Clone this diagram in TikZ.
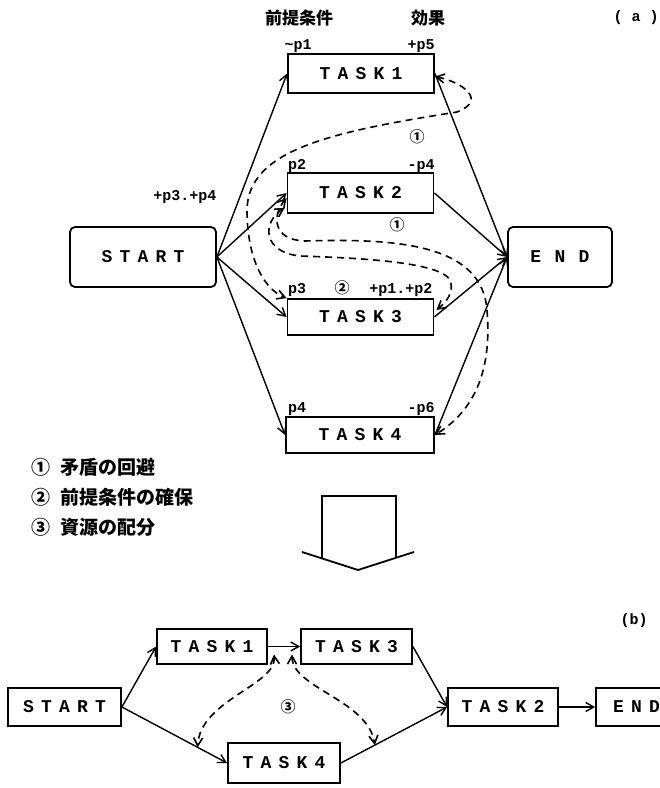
\documentclass[tikz,border=0pt]{standalone}
\usepackage{fontspec}
\setmainfont{Liberation Sans}
\newfontfamily\taskfont[LetterSpace=40]{Liberation Mono}
\newfontfamily\lblfont{Liberation Mono}
\newfontfamily\jpfont{Noto Sans CJK JP}
\usepackage{tikz}
\usetikzlibrary{arrows.meta,positioning,calc}

\begin{document}
\begin{tikzpicture}[x=1pt, y=-1pt,
 >={Straight Barb[length=8pt,width=9pt]},
 task/.style={rectangle, draw, line width=1.8pt, minimum width=146pt, minimum height=39pt,
 inner sep=0pt, font=\taskfont\bfseries\fontsize{18}{18}\selectfont},
 term/.style={task, rounded corners=5pt, minimum height=60pt},
 stask/.style={task, minimum width=111pt, minimum height=36pt},
 lbl/.style={inner sep=0pt, font=\lblfont\bfseries\fontsize{15}{15}\selectfont},
 num/.style={inner sep=0pt, font=\jpfont\bfseries\fontsize{15}{15}\selectfont},
 jp/.style={inner sep=0pt, font=\jpfont\bfseries\fontsize{17}{17}\selectfont},
 flow/.style={->, line width=1.4pt},
 dep/.style={<->, dash pattern=on 7pt off 5pt, line width=1.6pt},
]
\useasboundingbox (0,0) rectangle (660,788);

% (a)
\node[jp] (hpre) at (299,18) {前提条件};
\node[jp] (heff) at (428,18) {効果};
\node[lbl] (taga) at (636,18) {( a )};

\node[term] (st) at (143,257) {START};
\node[term, minimum width=104pt, font=\taskfont\bfseries\fontsize{18}{18}\selectfont\addfontfeature{LetterSpace=74}] (en) at (560,257) {END};
\node[task] (t1) at (361,73.5) {TASK1};
\node[task, minimum height=40pt] (t2) at (360.5,193) {TASK2};
\node[task, minimum height=36pt] (t3) at (360.5,317) {TASK3};
\node[task, minimum width=148pt, minimum height=36pt] (t4) at (360,435) {TASK4};

\node[lbl] (c1) at (298,46) {\textasciitilde p1};
\node[lbl] (e1) at (421,46) {+p5};
\node[lbl] (c2) at (297,166) {p2};
\node[lbl] (e2) at (421,166) {-p4};
\node[lbl] (c3) at (297,290) {p3};
\node[lbl] (e3) at (401,290) {+p1.+p2};
\node[lbl] (c4) at (297,409) {p4};
\node[lbl] (e4) at (421,409) {-p6};
\node[lbl] (e0) at (185,197) {+p3.+p4};
\node[num] (m1) at (417,137) {①};
\node[num] (m2) at (397,225) {①};
\node[num] (m3) at (342,288) {②};

\foreach \t in {t1,t2,t3,t4} {
 \draw[flow] (st.east) -- (\t.west);
 \draw[flow] (\t.east) -- (en.west);
}

\draw[dep] ($(t1.east)+(0,3)$) .. controls (462,82) and (488,100) .. (457,112)
 .. controls (330,132) and (248,150) .. (247,210)
 .. controls (247,260) and (265,290) .. (t3.north west);
\draw[dep] ($(t2.west)+(0,5)$) .. controls (272,215) and (272,240) .. (305,241)
 .. controls (400,238) and (482,245) .. (487,310)
 .. controls (492,370) and (475,410) .. (t4.east);
\draw[dep] ($(t2.south west)+(-2,-6)$) .. controls (262,222) and (262,252) .. (300,256)
 .. controls (360,258) and (440,262) .. (450,280)
 .. controls (455,293) and (445,303) .. ($(t3.east)+(2,-7)$);

\node[jp, anchor=west, font=\jpfont\bfseries\fontsize{19}{19}\selectfont] (lg1) at (31,467) {①\hspace{10pt}矛盾の回避};
\node[jp, anchor=west, font=\jpfont\bfseries\fontsize{19}{19}\selectfont] (lg2) at (31,497) {②\hspace{10pt}前提条件の確保};
\node[jp, anchor=west, font=\jpfont\bfseries\fontsize{19}{19}\selectfont] (lg3) at (31,527) {③\hspace{10pt}資源の配分};

\draw[line width=1.8pt] (322,558) -- (322,496) -- (396,496) -- (396,558);
\draw[line width=1.8pt] (302,552) -- (358,570) -- (414,552);

% (b)
\node[lbl] (tagb) at (634,621) {(b)};
\node[stask, minimum width=113pt, minimum height=38pt] (sb) at (64.5,707) {START};
\node[stask, minimum width=110pt, minimum height=35pt] (t1b) at (212,646.5) {TASK1};
\node[stask, minimum height=35pt] (t3b) at (356.5,646.5) {TASK3};
\node[stask, minimum width=112pt, minimum height=40pt] (t4b) at (284,763) {TASK4};
\node[stask, minimum width=110pt, minimum height=38pt] (t2b) at (503,707) {TASK2};
\node[stask, minimum width=81pt, minimum height=38pt] (eb) at (636.5,707) {END};
\node[num] (m4) at (288,707) {③};

\draw[flow] (sb.east) -- (t1b.west);
\draw[flow] (sb.east) -- (t4b.west);
\draw[flow] (t1b.east) -- (t3b.west);
\draw[flow] (t3b.east) -- (t2b.west);
\draw[flow] (t4b.east) -- (t2b.west);
\draw[flow] (t2b.east) -- (eb.west);

\coordinate (mid) at ($(t1b.east)!0.5!(t3b.west)$);
\draw[dep] ($(mid)+(-10,8)$) .. controls (277,685) and (200,700) .. ($(sb.east)!0.72!(t4b.west)$);
\draw[dep] ($(mid)+(8,8)$) .. controls (292,688) and (368,700) .. ($(t4b.east)!0.32!(t2b.west)$);
\end{tikzpicture}
\end{document}
